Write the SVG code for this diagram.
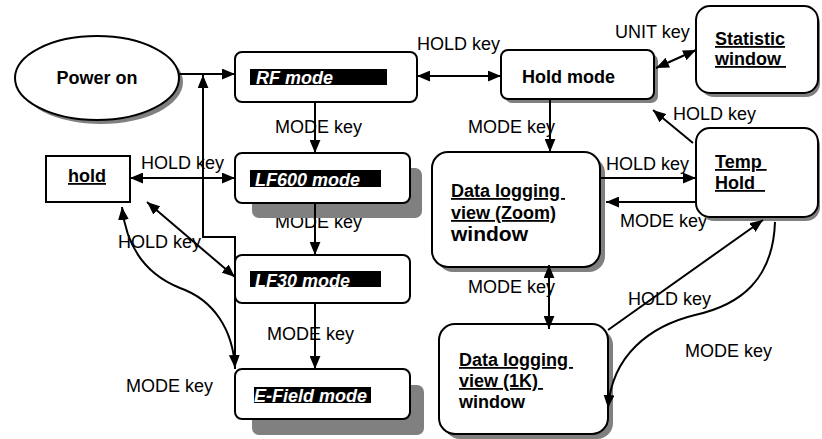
<svg xmlns="http://www.w3.org/2000/svg" width="822" height="439" viewBox="0 0 822 439">
<style>
text{font-family:"Liberation Sans",Arial,sans-serif;font-size:18px;fill:#000}
.b{font-weight:bold}
.u{text-decoration:underline}
.m{font-weight:bold;font-style:italic;fill:#fff}
.box{fill:#fff;stroke:#000;stroke-width:2}
.sh{fill:#808080;stroke:none}
.lab{fill:#000}
.c{fill:none;stroke:#000;stroke-width:2}
</style>
<defs>
<marker id="a" viewBox="0 0 12 10" refX="12" refY="5" markerWidth="13" markerHeight="11" markerUnits="userSpaceOnUse" orient="auto-start-reverse">
<path d="M0,0 L12,5 L0,10 z" fill="#000"/>
</marker>
</defs>
<rect width="822" height="439" fill="#fff"/>

<g id="labels">
<text x="417" y="50">HOLD key</text>
<text x="615" y="38">UNIT key</text>
<text x="673" y="120">HOLD key</text>
<text x="275" y="133">MODE key</text>
<text x="468" y="133">MODE key</text>
<text x="141" y="169">HOLD key</text>
<text x="606" y="170">HOLD key</text>
<text x="620" y="227">MODE key</text>
<text x="275" y="228">MODE key</text>
<text x="118" y="248">HOLD key</text>
<text x="468" y="293">MODE key</text>
<text x="628" y="305">HOLD key</text>
<text x="267" y="340">MODE key</text>
<text x="685" y="357">MODE key</text>
<text x="126" y="392">MODE key</text>
</g>

<g id="power-on">
<ellipse class="sh" cx="101" cy="82" rx="82" ry="42"/>
<ellipse class="box" cx="97" cy="78" rx="82" ry="42"/>
<text class="b" x="97" y="84" text-anchor="middle">Power on</text>
</g>

<g id="rf-mode">
<rect class="box" x="235" y="52" width="182" height="50" rx="7"/>
<rect class="lab" x="250" y="69" width="137" height="16"/>
<text class="m" x="256" y="84">RF mode</text>
</g>

<g id="lf600-mode">
<rect class="sh" x="252" y="168" width="170" height="50" rx="7"/>
<rect class="box" x="235" y="153" width="175" height="50" rx="7"/>
<rect class="lab" x="250" y="170" width="131" height="17"/>
<text class="m" x="255" y="186">LF600 mode</text>
</g>

<g id="lf30-mode">
<rect class="box" x="235" y="255" width="175" height="48" rx="7"/>
<rect class="lab" x="250" y="271" width="131" height="16"/>
<text class="m" x="255" y="287">LF30 mode</text>
</g>

<g id="efield-mode">
<rect class="sh" x="252" y="385" width="172" height="50" rx="7"/>
<rect class="box" x="235" y="369" width="175" height="50" rx="7"/>
<rect class="lab" x="254" y="387" width="117" height="16"/>
<text class="m" x="254" y="402">E-Field mode</text>
</g>

<g id="hold">
<rect class="box" x="46" y="156" width="84" height="46"/>
<text class="b u" x="87" y="182" text-anchor="middle">hold</text>
</g>

<g id="hold-mode">
<rect class="sh" x="505" y="54" width="153" height="49" rx="7"/>
<rect class="box" x="501" y="50" width="153" height="49" rx="7"/>
<text class="b" x="522" y="83">Hold mode</text>
</g>

<g id="statistic-window">
<rect class="sh" x="700" y="10" width="120" height="87" rx="14"/>
<rect class="box" x="696" y="6" width="122" height="87" rx="14"/>
<text class="b u" x="715" y="45" xml:space="preserve">Statistic</text>
<text class="b u" x="715" y="65" xml:space="preserve">window </text>
</g>

<g id="temp-hold">
<rect class="sh" x="700" y="132" width="120" height="89" rx="14"/>
<rect class="box" x="696" y="128" width="122" height="89" rx="14"/>
<text class="b u" x="715" y="168" xml:space="preserve">Temp </text>
<text class="b u" x="715" y="189" xml:space="preserve">Hold  </text>
</g>

<g id="data-logging-zoom">
<rect class="sh" x="437" y="157" width="168" height="115" rx="16"/>
<rect class="box" x="432" y="152" width="168" height="115" rx="16"/>
<text class="b u" x="451" y="197" xml:space="preserve">Data logging </text>
<text class="b u" x="451" y="219">view (Zoom)</text>
<text class="b" x="451" y="241" style="font-size:21px">window</text>
</g>

<g id="data-logging-1k">
<rect class="sh" x="444" y="329" width="169" height="110" rx="16"/>
<rect class="box" x="439" y="324" width="169" height="110" rx="16"/>
<text class="b u" x="459" y="366" xml:space="preserve">Data logging </text>
<text class="b u" x="459" y="387" xml:space="preserve">view (1K) </text>
<text class="b" x="459" y="408">window</text>
</g>

<g id="connectors">
<path class="c" d="M179,74 L235,74" marker-end="url(#a)"/>
<path class="c" d="M235,369 L235,237 L203,237 L203,75" marker-end="url(#a)"/>
<path class="c" d="M122,207 C128,262 160,280 180,288 C214,300 233,330 235,368" marker-start="url(#a)" marker-end="url(#a)"/>
<path class="c" d="M147,202 L235,277" marker-start="url(#a)" marker-end="url(#a)"/>
<path class="c" d="M130,178 L235,178" marker-start="url(#a)" marker-end="url(#a)"/>
<path class="c" d="M315,102 L315,153" marker-end="url(#a)"/>
<path class="c" d="M315,203 L315,255" marker-end="url(#a)"/>
<path class="c" d="M315,303 L315,369" marker-end="url(#a)"/>
<path class="c" d="M417,76 L501,76" marker-start="url(#a)" marker-end="url(#a)"/>
<path class="c" d="M656,68 L696,50" marker-start="url(#a)" marker-end="url(#a)"/>
<path class="c" d="M693,143 L653,110" marker-end="url(#a)"/>
<path class="c" d="M550,99 L550,152" marker-end="url(#a)"/>
<path class="c" d="M600,178 L696,178" marker-end="url(#a)"/>
<path class="c" d="M696,202 L606,202" marker-end="url(#a)"/>
<path class="c" d="M549,265 L549,329" marker-start="url(#a)" marker-end="url(#a)"/>
<path class="c" d="M608,330 L763,220" marker-end="url(#a)"/>
<path class="c" d="M775,222 C773,280 740,305 695,315 C650,326 612,355 608,408" marker-end="url(#a)"/>
</g>
</svg>
